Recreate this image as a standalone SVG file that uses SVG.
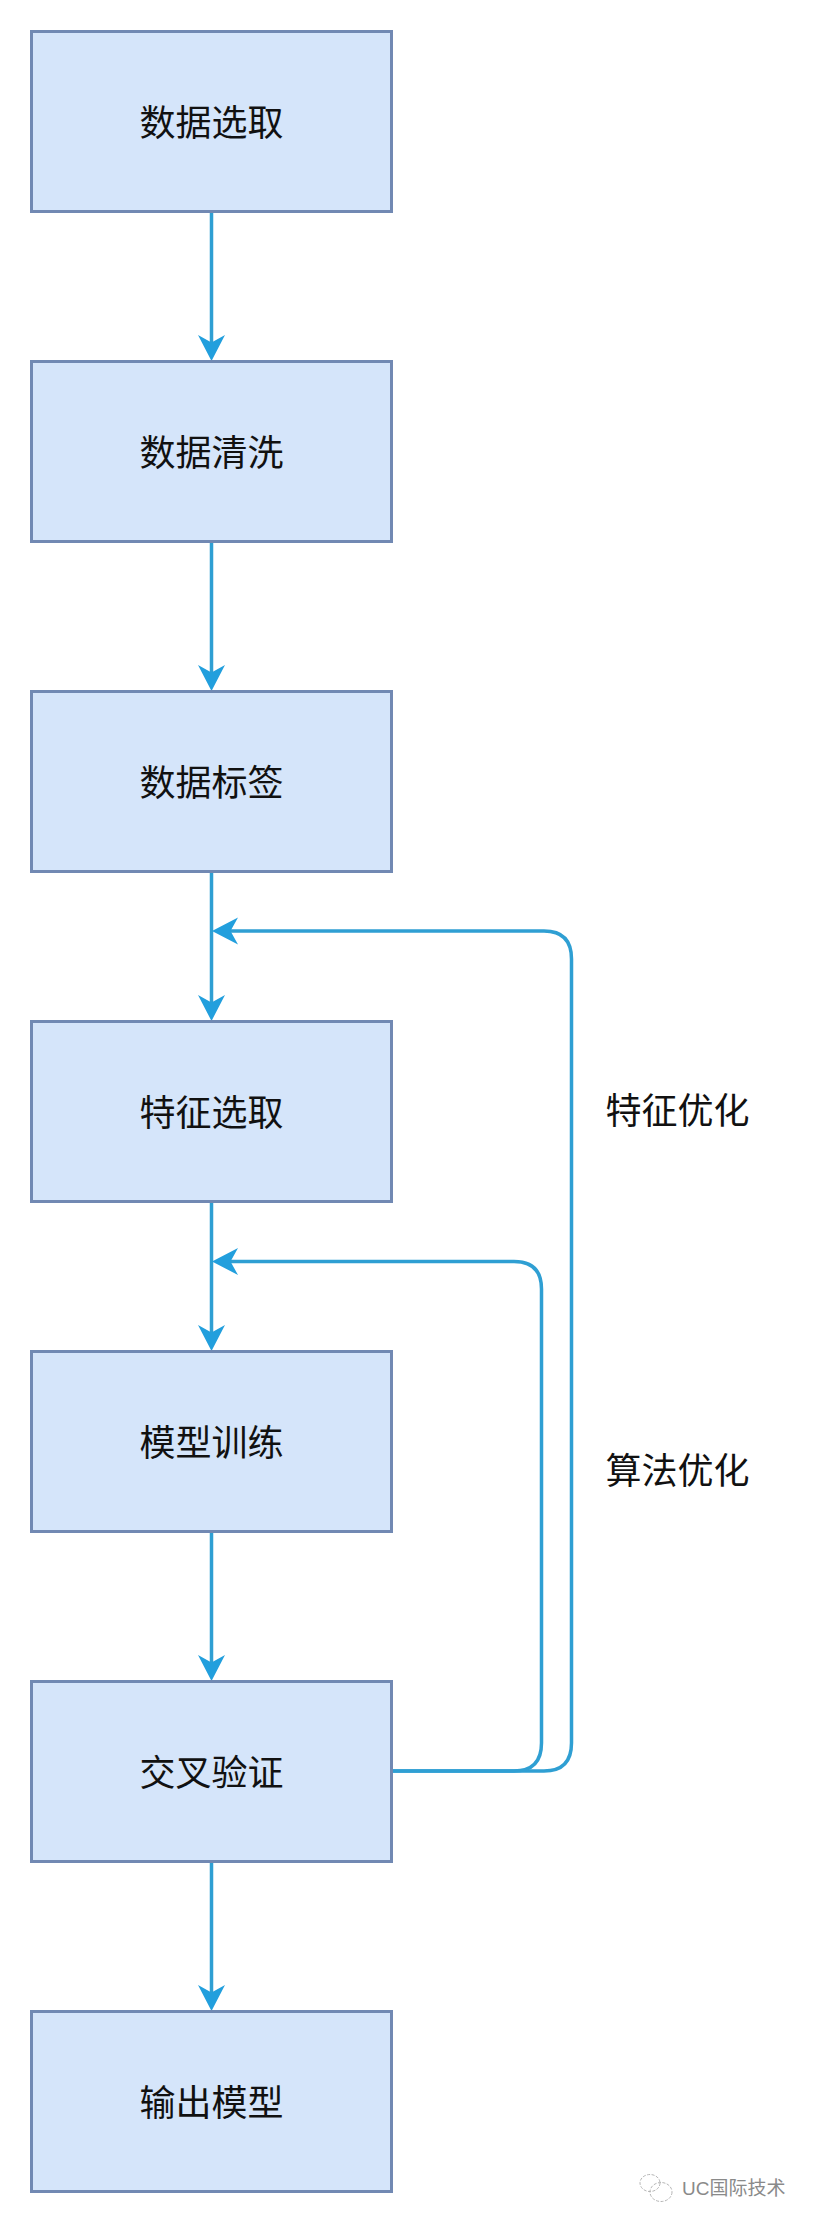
<svg xmlns="http://www.w3.org/2000/svg" width="813" height="2223" viewBox="0 0 813 2223">
  <style>
    .box { fill: #d5e5fa; stroke: #7189b3; stroke-width: 3; }
    .label { font-family: "Noto Sans CJK SC", "Liberation Sans", sans-serif; font-size: 36px; fill: #111; text-anchor: middle; dominant-baseline: central; }
    .link { fill: none; stroke: #2f9fd3; stroke-width: 3.5; }
    .head { fill: #229fdd; }
    .mark { font-family: "Liberation Sans", "Noto Sans CJK SC", sans-serif; font-size: 19px; fill: #8a8a8a; }
    .logo { fill: none; stroke: #b5b5b5; stroke-width: 1; stroke-dasharray: 3 1.5; }
  </style>
  <defs>
    <path id="tip-down" class="head" d="M0 0 L-13.5 -26 L0 -18.5 L13.5 -26 Z"/>
    <path id="tip-left" class="head" d="M0 0 L26 -13.5 L18.5 0 L26 13.5 Z"/>
  </defs>
  <rect width="813" height="2223" fill="#fff"/>

  <g id="connectors">
    <path class="link" d="M211.5 212 V345"/>
    <path class="link" d="M211.5 542 V675"/>
    <path class="link" d="M211.5 872 V1005"/>
    <path class="link" d="M211.5 1202 V1335"/>
    <path class="link" d="M211.5 1532 V1665"/>
    <path class="link" d="M211.5 1862 V1995"/>
    <path class="link" d="M392 1771 H544 Q571.5 1771 571.5 1743 V959 Q571.5 931 544 931 H230"/>
    <path class="link" d="M392 1771 H514 Q541.5 1771 541.5 1743 V1289 Q541.5 1261.5 514 1261.5 H230"/>
    <use href="#tip-down" x="211.5" y="361"/>
    <use href="#tip-down" x="211.5" y="691"/>
    <use href="#tip-down" x="211.5" y="1021"/>
    <use href="#tip-down" x="211.5" y="1351"/>
    <use href="#tip-down" x="211.5" y="1681"/>
    <use href="#tip-down" x="211.5" y="2011"/>
    <use href="#tip-left" x="212" y="931"/>
    <use href="#tip-left" x="212" y="1261.5"/>
  </g>

  <g id="node-select"><rect class="box" x="31.5" y="31.5" width="360" height="180"/><text class="label" x="211.5" y="119.5">数据选取</text></g>
  <g id="node-clean"><rect class="box" x="31.5" y="361.5" width="360" height="180"/><text class="label" x="211.5" y="449.5">数据清洗</text></g>
  <g id="node-tag"><rect class="box" x="31.5" y="691.5" width="360" height="180"/><text class="label" x="211.5" y="779.5">数据标签</text></g>
  <g id="node-feature"><rect class="box" x="31.5" y="1021.5" width="360" height="180"/><text class="label" x="211.5" y="1109.5">特征选取</text></g>
  <g id="node-train"><rect class="box" x="31.5" y="1351.5" width="360" height="180"/><text class="label" x="211.5" y="1439.5">模型训练</text></g>
  <g id="node-validate"><rect class="box" x="31.5" y="1681.5" width="360" height="180"/><text class="label" x="211.5" y="1769.5">交叉验证</text></g>
  <g id="node-output"><rect class="box" x="31.5" y="2011.5" width="360" height="180"/><text class="label" x="211.5" y="2099.5">输出模型</text></g>

  <g id="note-feature"><text class="label" x="677.5" y="1107.5">特征优化</text></g>
  <g id="note-algorithm"><text class="label" x="677.5" y="1467.5">算法优化</text></g>

  <g id="watermark">
    <ellipse class="logo" cx="650" cy="2183" rx="10" ry="8.5"/>
    <ellipse class="logo" cx="661" cy="2192" rx="11" ry="9.5"/>
    <text class="mark" x="682" y="2194.5">UC国际技术</text>
  </g>
</svg>
